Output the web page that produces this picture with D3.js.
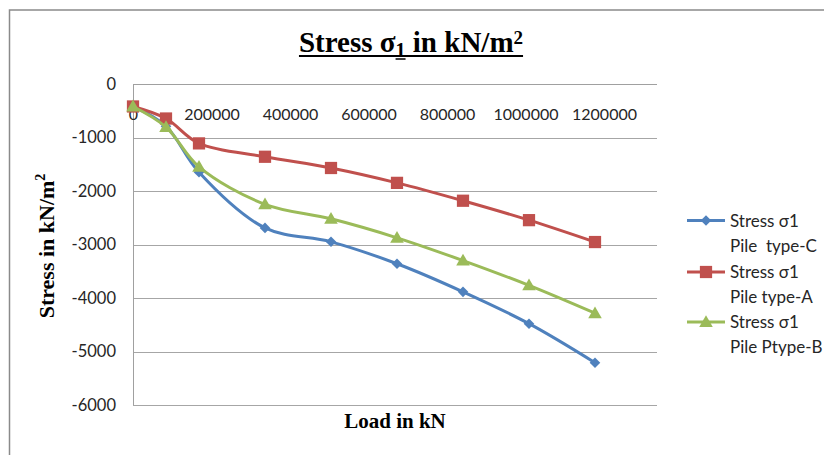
<!DOCTYPE html>
<html>
<head>
<meta charset="utf-8">
<script src="https://cdn.jsdelivr.net/npm/d3@7"></script>
<style>
  body { margin: 0; background: #fff; }
  svg { display: block; }
</style>
</head>
<body>
<svg id="chart" width="824" height="455"></svg>
<script>
// Applied load (kN) at each step
const loads = [0, 75000, 150000, 300000, 450000, 600000, 750000, 900000, 1050000];
// Stress σ1 (kN/m²) for each pile type
const stressTypeC = [-420, -790, -1650, -2690, -2950, -3360, -3885, -4480, -5210];
const stressTypeA = [-420, -645, -1110, -1360, -1570, -1848, -2182, -2545, -2954];
const stressTypeB = [-420, -805, -1550, -2250, -2520, -2875, -3300, -3765, -4285];
// Axis ticks
const xTickValues = [0, 200000, 400000, 600000, 800000, 1000000, 1200000];
const yTickValues = [0, -1000, -2000, -3000, -4000, -5000, -6000];
// Legend labels (two lines each)
const legendLines = [["Stress σ1", "Pile  type-C"], ["Stress σ1", "Pile type-A"], ["Stress σ1", "Pile Ptype-B"]];

const seriesColors = ["#4f81bd", "#c0504d", "#9bbb59"];
const seriesShapes = ["diamond", "square", "triangle"];
const seriesData = [stressTypeC, stressTypeA, stressTypeB];

const svg = d3.select("#chart");
const plot = { left: 133, right: 657, top: 84, bottom: 405 };

const x = d3.scaleLinear().domain([0, 1200000]).range([plot.left, 661]);
// Tick labels are packed a little tighter than the plot width
const xLabel = d3.scaleLinear().domain([0, 1200000]).range([plot.left, 604]);
const y = d3.scaleLinear().domain([0, -6000]).range([plot.top, plot.bottom]);
const plainNumber = d => String(d);

// Outer frame
svg.append("rect")
  .attr("x", 9.5).attr("y", 10).attr("width", 900).attr("height", 500)
  .attr("fill", "#fff").attr("stroke", "#8a8a8a").attr("stroke-width", 1.5);

// Horizontal gridlines
svg.append("g")
  .selectAll("line")
  .data(yTickValues.slice(1))
  .join("line")
  .attr("x1", plot.left).attr("x2", plot.right)
  .attr("y1", d => Math.round(y(d)) + 0.5).attr("y2", d => Math.round(y(d)) + 0.5)
  .attr("stroke", "#a6a6a6").attr("stroke-width", 1);

// Axis lines
svg.append("line")
  .attr("x1", plot.left).attr("x2", plot.right)
  .attr("y1", y(0) + 0.5).attr("y2", y(0) + 0.5)
  .attr("stroke", "#a0a0a0").attr("stroke-width", 1);
svg.append("line")
  .attr("x1", plot.left + 0.5).attr("x2", plot.left + 0.5)
  .attr("y1", plot.top).attr("y2", plot.bottom)
  .attr("stroke", "#a0a0a0").attr("stroke-width", 1);

// Y axis tick labels
const yAxis = d3.axisLeft(y).tickValues(yTickValues).tickSize(0).tickPadding(0).tickFormat(plainNumber);
const yG = svg.append("g").attr("transform", "translate(116,0)").call(yAxis);
yG.select(".domain").remove();
yG.selectAll("text").attr("font-family", "Lato, 'Open Sans', sans-serif").attr("font-size", 16.5).attr("fill", "#262626");

// X axis tick labels (sit just under the zero line)
const xAxis = d3.axisBottom(xLabel).tickValues(xTickValues).tickSize(0).tickPadding(0).tickFormat(plainNumber);
const xG = svg.append("g").attr("transform", "translate(0,109)").call(xAxis);
xG.select(".domain").remove();
xG.selectAll("text").attr("font-family", "Lato, 'Open Sans', sans-serif").attr("font-size", 16).attr("fill", "#262626");

// Marker shapes
function markerPath(shape) {
  if (shape === "diamond") return d3.symbol().type(d3.symbolSquare).size(56)();
  if (shape === "square") return d3.symbol().type(d3.symbolSquare).size(150)();
  return d3.symbol().type(d3.symbolTriangle).size(80)();
}
function markerTransform(shape, px, py) {
  if (shape === "diamond") return `translate(${px},${py}) rotate(45)`;
  if (shape === "triangle") return `translate(${px},${py + 1})`;
  return `translate(${px},${py})`;
}

const line = d3.line()
  .x((d, i) => x(loads[i]))
  .y(d => y(d))
  .curve(d3.curveCatmullRom.alpha(0.5));

seriesData.forEach((vals, s) => {
  const g = svg.append("g");
  g.append("path")
    .attr("d", line(vals))
    .attr("fill", "none")
    .attr("stroke", seriesColors[s])
    .attr("stroke-width", 3)
    .attr("stroke-linejoin", "round");
  g.selectAll("path.marker")
    .data(vals)
    .join("path")
    .attr("class", "marker")
    .attr("d", markerPath(seriesShapes[s]))
    .attr("transform", (d, i) => markerTransform(seriesShapes[s], x(loads[i]), y(d)))
    .attr("fill", seriesColors[s]);
});

// Title with subscript, superscript and underline
const title = svg.append("text")
  .attr("x", 411).attr("y", 52)
  .attr("text-anchor", "middle")
  .attr("font-family", "'Liberation Serif', 'Times New Roman', serif")
  .attr("font-weight", "bold")
  .attr("font-size", 29)
  .attr("fill", "#000");
title.append("tspan").text("Stress σ");
const sub = title.append("tspan").attr("font-size", 20).attr("dy", 5).text("1");
title.append("tspan").attr("dy", -5).text(" in kN/m");
title.append("tspan").attr("font-size", 19).attr("dy", -8).text("2");
const tb = title.node().getBBox();
svg.append("line")
  .attr("x1", tb.x).attr("x2", tb.x + tb.width)
  .attr("y1", 56).attr("y2", 56)
  .attr("stroke", "#000").attr("stroke-width", 2);
const sb = sub.node().getBBox();
svg.append("line")
  .attr("x1", sb.x).attr("x2", sb.x + sb.width)
  .attr("y1", 59).attr("y2", 59)
  .attr("stroke", "#000").attr("stroke-width", 1.5);

// Axis titles
const yTitle = svg.append("text")
  .attr("transform", "translate(54,246) rotate(-90)")
  .attr("text-anchor", "middle")
  .attr("font-family", "'Liberation Serif', 'Times New Roman', serif")
  .attr("font-weight", "bold")
  .attr("font-size", 22)
  .attr("fill", "#000");
yTitle.append("tspan").text("Stress in kN/m");
yTitle.append("tspan").attr("font-size", 14).attr("dy", -9).text("2");

svg.append("text")
  .attr("x", 395).attr("y", 428)
  .attr("text-anchor", "middle")
  .attr("font-family", "'Liberation Serif', 'Times New Roman', serif")
  .attr("font-weight", "bold")
  .attr("font-size", 21)
  .attr("fill", "#000")
  .text("Load in kN");

// Legend
const legendRows = [220.5, 272, 322];
legendLines.forEach((lines, s) => {
  const g = svg.append("g").attr("transform", `translate(0,${legendRows[s]})`);
  g.append("line")
    .attr("x1", 687).attr("x2", 725)
    .attr("y1", 0).attr("y2", 0)
    .attr("stroke", seriesColors[s]).attr("stroke-width", 3);
  g.append("path")
    .attr("d", markerPath(seriesShapes[s]))
    .attr("transform", markerTransform(seriesShapes[s], 706, 0))
    .attr("fill", seriesColors[s]);
  lines.forEach((t, k) => {
    g.append("text")
      .attr("x", 730).attr("y", 6 + k * 25)
      .attr("font-family", "Lato, 'Open Sans', sans-serif")
      .attr("font-size", 17)
      .attr("fill", "#262626")
      .style("white-space", "pre")
      .text(t);
  });
});
</script>
</body>
</html>
